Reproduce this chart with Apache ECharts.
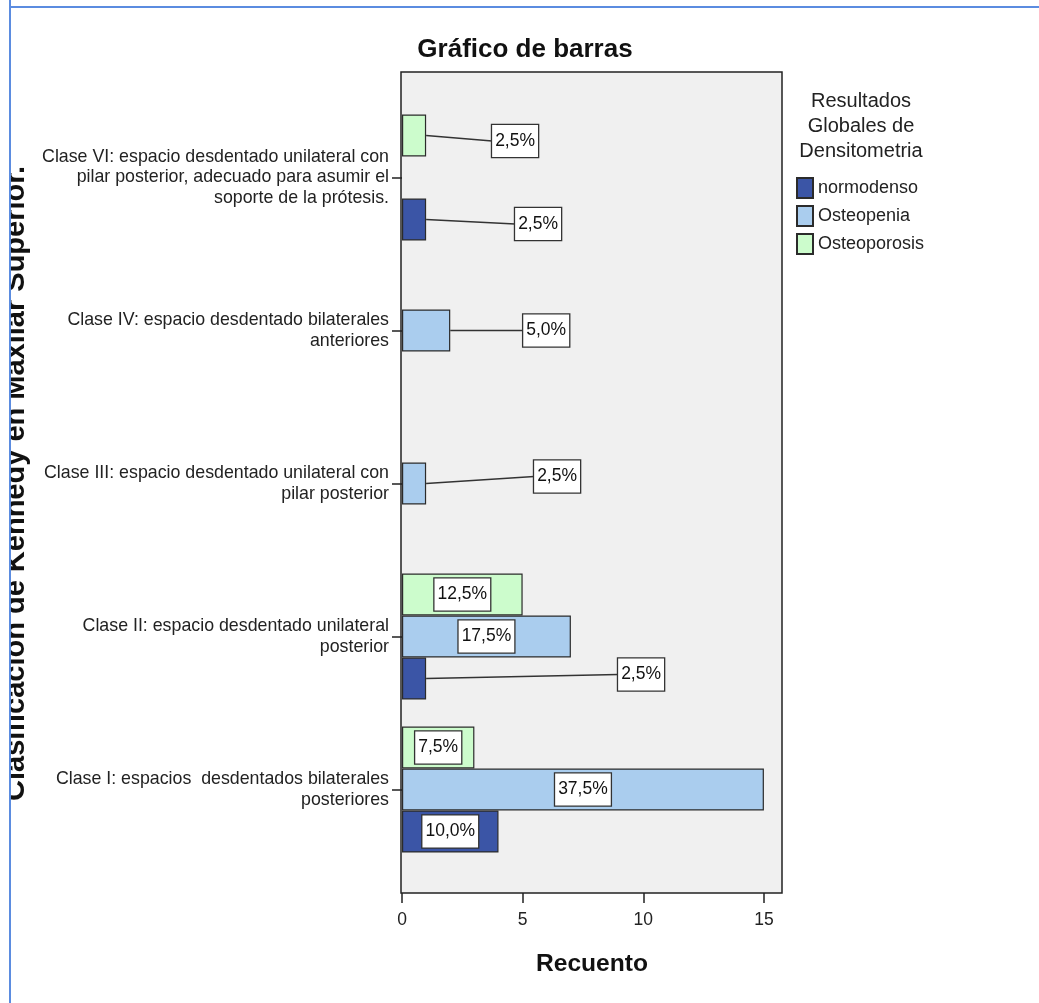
<!DOCTYPE html>
<html>
<head>
<meta charset="utf-8">
<script src="https://cdn.jsdelivr.net/npm/echarts@6/dist/echarts.min.js"></script>
<style>
  html, body { margin: 0; padding: 0; background: #fff; }
  #chart { position: absolute; left: 0; top: 0; width: 1039px; height: 1003px; }
  #edgeL { position: absolute; left: 0; top: 0; width: 9px; height: 1003px; background: #fff; border-right: 2px solid #5b8ce0; }
  #edgeT { position: absolute; left: 9px; top: 6px; width: 1030px; height: 2px; background: #5b8ce0; }
</style>
</head>
<body>
<div id="chart"></div>
<div id="edgeL"></div>
<div id="edgeT"></div>
<script>
// Kennedy classes, listed bottom to top on the category axis
const categories = [
  'Clase I: espacios  desdentados bilaterales\nposteriores',
  'Clase II: espacio desdentado unilateral\nposterior',
  'Clase III: espacio desdentado unilateral con\npilar posterior',
  'Clase IV: espacio desdentado bilaterales\nanteriores',
  'Clase VI: espacio desdentado unilateral con\npilar posterior, adecuado para asumir el\nsoporte de la prótesis.'
];

// counts per densitometry result ('-' = no cases)
const normodenso   = [4, 1, '-', '-', 1];
const osteopenia   = [15, 7, 1, 2, '-'];
const osteoporosis = [3, 5, '-', '-', 1];

const xTicks = [0, 5, 10, 15];
const totalN = 40;

// labels of short bars are pushed to the right and tied back with a leader line
const callouts = {
  normodenso:   { 1: [187, -4], 4: [84, 4.5] },
  Osteopenia:   { 2: [103, -7], 3: [68, 0] },
  Osteoporosis: { 4: [61, 5.5] }
};

const FONT = '"Liberation Sans", Arial, Helvetica, sans-serif';
const CATEGORY_GAP = 0.176;
const LABEL_DISTANCE = 5;

function pct(v) {
  return (v / totalN * 100).toFixed(1).replace('.', ',') + '%';
}

// series top to bottom inside each class band
const seriesDefs = [
  { name: 'Osteoporosis', values: osteoporosis, color: '#ccfccc' },
  { name: 'Osteopenia',   values: osteopenia,   color: '#aacdee' },
  { name: 'normodenso',   values: normodenso,   color: '#3b55a6' }
];

function buildSeries(def) {
  const shifts = callouts[def.name] || {};
  return {
    name: def.name,
    type: 'bar',
    barGap: '0%',
    barCategoryGap: (CATEGORY_GAP * 100) + '%',
    itemStyle: { color: def.color, borderColor: '#2b2b2b', borderWidth: 1.2 },
    label: {
      show: true,
      position: 'inside',
      formatter: p => pct(p.value),
      fontFamily: FONT,
      fontSize: 17.5,
      lineHeight: 23,
      color: '#111',
      backgroundColor: '#fff',
      borderColor: '#333',
      borderWidth: 1.3,
      padding: [5, 3, 4, 3]
    },
    z: 3,
    data: def.values.map((v, i) => {
      const s = shifts[i];
      if (v === '-' || !s) return v;
      return { value: v, label: { position: 'right', distance: LABEL_DISTANCE, offset: s } };
    })
  };
}

// leader lines: from the bar end (slot centre) to the left edge of its moved label
const leaderData = [];
seriesDefs.forEach((def, slot) => {
  const shifts = callouts[def.name] || {};
  Object.keys(shifts).forEach(k => {
    const i = +k;
    leaderData.push([def.values[i], i, slot, shifts[i][0], shifts[i][1]]);
  });
});

const leaderSeries = {
  type: 'custom',
  name: 'leaders',
  silent: true,
  z: 2,
  encode: { x: 0, y: 1 },
  data: leaderData,
  renderItem: function (params, api) {
    const v = api.value(0), ci = api.value(1), slot = api.value(2);
    const dx = api.value(3), dy = api.value(4);
    const p = api.coord([v, ci]);
    const band = api.size([0, 1])[1];
    const bw = band * (1 - CATEGORY_GAP) / seriesDefs.length;
    const cy = p[1] + (slot - (seriesDefs.length - 1) / 2) * bw;
    return {
      type: 'line',
      shape: { x1: p[0], y1: cy, x2: p[0] + LABEL_DISTANCE + dx, y2: cy + dy },
      style: { stroke: '#333', lineWidth: 1.5 }
    };
  }
};

const chart = echarts.init(document.getElementById('chart'), null, { renderer: 'canvas' });

chart.setOption({
  animation: false,
  textStyle: { fontFamily: FONT },
  title: [
    {
      text: 'Gráfico de barras',
      left: 525, top: 37, textAlign: 'center', padding: 0,
      textStyle: { fontFamily: FONT, fontSize: 26, fontWeight: 'bold', color: '#111' }
    },
    {
      text: 'Resultados\nGlobales de\nDensitometria',
      left: 861, top: 89, textAlign: 'center', padding: 0,
      textStyle: { fontFamily: FONT, fontSize: 20, lineHeight: 25, fontWeight: 'normal', color: '#222' }
    }
  ],
  legend: {
    orient: 'vertical',
    left: 796, top: 177,
    padding: 0,
    itemWidth: 16, itemHeight: 20, itemGap: 6,
    icon: 'rect',
    selectedMode: false,
    data: ['normodenso', 'Osteopenia', 'Osteoporosis'],
    textStyle: { fontFamily: FONT, fontSize: 18, color: '#222' }
  },
  graphic: [
    {
      type: 'rect', silent: true, z: 0,
      shape: { x: 401, y: 72, width: 381, height: 821 },
      style: { fill: '#f0f0f0', stroke: '#222', lineWidth: 1.5 }
    }
  ],
  grid: { left: 401, top: 101, width: 381, height: 765, containLabel: false },
  xAxis: {
    type: 'value',
    min: 0, max: 15.75, interval: 5,
    offset: 27,
    axisLine: { show: false },
    axisTick: { show: true, length: 10, customValues: xTicks, lineStyle: { color: '#222', width: 1.5 } },
    axisLabel: { customValues: xTicks, margin: 18, fontFamily: FONT, fontSize: 17.5, color: '#222' },
    splitLine: { show: false },
    name: 'Recuento',
    nameLocation: 'middle',
    nameGap: 59,
    nameTextStyle: { fontFamily: FONT, fontSize: 24.6, fontWeight: 'bold', color: '#111' }
  },
  yAxis: {
    type: 'category',
    data: categories,
    axisLine: { show: false },
    axisTick: { show: true, alignWithLabel: true, length: 10, lineStyle: { color: '#222', width: 1.5 } },
    axisLabel: { fontFamily: FONT, fontSize: 17.8, lineHeight: 20.5, color: '#222', margin: 13, align: 'right', padding: [5, 0, 0, 0] },
    splitLine: { show: false },
    name: 'Clasificación de Kennedy en Maxilar Superior.',
    nameLocation: 'middle',
    nameRotate: 90,
    nameGap: 372,
    nameTextStyle: { fontFamily: FONT, fontSize: 29, fontWeight: 'bold', color: '#111' }
  },
  series: seriesDefs.map(buildSeries).concat([leaderSeries])
});
</script>
</body>
</html>
